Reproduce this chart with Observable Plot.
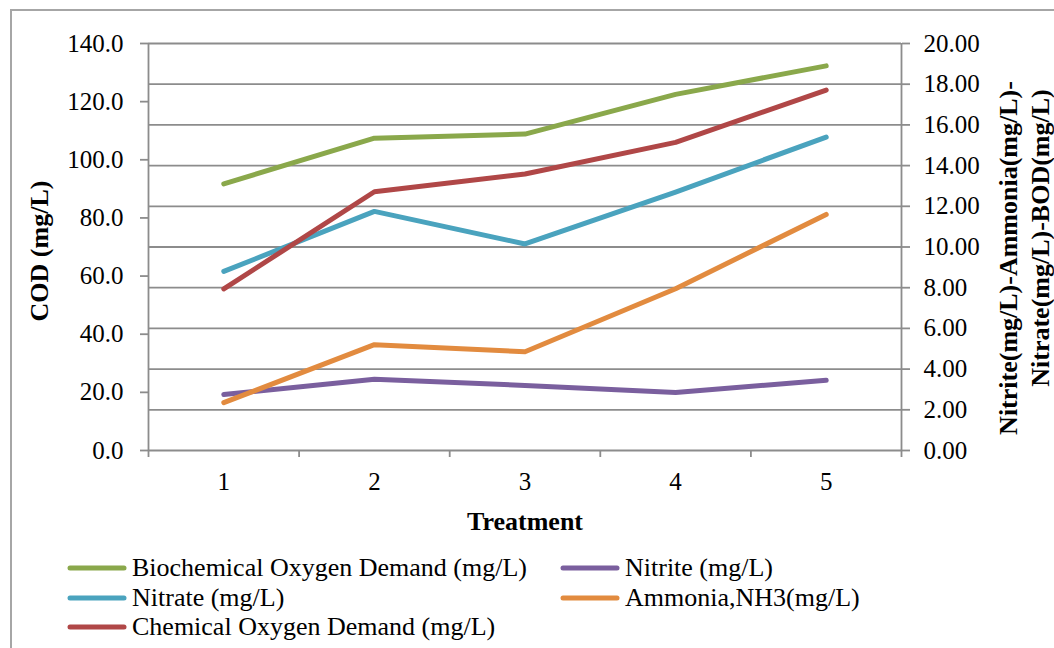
<!DOCTYPE html>
<html>
<head>
<meta charset="utf-8">
<script src="https://cdn.jsdelivr.net/npm/d3@7"></script>
<script src="https://cdn.jsdelivr.net/npm/@observablehq/plot@0.6"></script>
<style>
  html, body { margin: 0; padding: 0; background: #fff; }
  #wrap { position: relative; width: 1054px; height: 648px; overflow: hidden; background: #fff;
          font-family: "Liberation Serif", "Times New Roman", serif; color: #000; }
  #border { position: absolute; left: 10px; top: 9px; width: 1100px; height: 700px;
            border-left: 2px solid #a6a6a6; border-top: 2px solid #a6a6a6; }
  #chart { position: absolute; left: 0; top: 0; }
  .leg { position: absolute; display: flex; align-items: center; font-size: 26px; line-height: 26px; white-space: nowrap; }
  .leg svg { margin-right: 3px; }
</style>
</head>
<body>
<div id="wrap">
  <div id="border"></div>
  <div id="chart"></div>
  <div id="legend"></div>
</div>
<script>
// ---- data ----
const treatments = [1, 2, 3, 4, 5];
const bod = [13.1, 15.35, 15.55, 17.5, 18.9];       // right axis
const nitrite = [2.75, 3.5, 3.2, 2.85, 3.45];       // right axis
const nitrate = [8.8, 11.75, 10.15, 12.7, 15.4];    // right axis
const ammonia = [2.35, 5.2, 4.85, 7.95, 11.6];      // right axis
const cod = [55.6, 89.0, 95.1, 106.0, 124.0];       // left axis

const leftTicks = [0, 20, 40, 60, 80, 100, 120, 140];
const rightTicks = [0, 2, 4, 6, 8, 10, 12, 14, 16, 18, 20];

const seriesNames = [
  "Biochemical Oxygen Demand (mg/L)",
  "Nitrite (mg/L)",
  "Nitrate (mg/L)",
  "Ammonia,NH3(mg/L)",
  "Chemical Oxygen Demand (mg/L)"
];
const seriesColors = ["#8aa84b", "#7a5f9e", "#4aa3be", "#e28b3f", "#b04747"];
const seriesValues = [bod, nitrite, nitrate, ammonia, cod];
const seriesAxis = ["right", "right", "right", "right", "left"];

// ---- build ----
const k = d3.max(leftTicks) / d3.max(rightTicks); // right -> left scale factor
const rows = [];
seriesNames.forEach((name, i) => {
  seriesValues[i].forEach((v, j) => {
    rows.push({ series: name, t: treatments[j], y: seriesAxis[i] === "right" ? v * k : v });
  });
});
const boundaries = d3.range(treatments[0] - 0.5, treatments[treatments.length - 1] + 0.51, 1);
const grid = "#8c8c8c";
const serif = "'Liberation Serif', 'Times New Roman', serif";

const chart = Plot.plot({
  width: 1054,
  height: 545,
  marginLeft: 148,
  marginRight: 153,
  marginTop: 43,
  marginBottom: 95,
  style: { fontFamily: serif, fontSize: "25px", color: "#000", background: "transparent", overflow: "visible" },
  x: { type: "linear", domain: [boundaries[0], boundaries[boundaries.length - 1]] },
  y: { domain: [0, d3.max(leftTicks)] },
  color: { domain: seriesNames, range: seriesColors },
  marks: [
    Plot.ruleY(rightTicks, { y: d => d * k, stroke: grid, strokeWidth: 1.8 }),
    Plot.ruleX([boundaries[0], boundaries[boundaries.length - 1]], { stroke: grid, strokeWidth: 1.8 }),
    Plot.axisY({ anchor: "left", ticks: leftTicks, tickFormat: d => d.toFixed(1), tickSize: 8, tickPadding: 17, label: null, stroke: grid, strokeWidth: 1.8, fill: "#000" }),
    Plot.axisY({ anchor: "right", ticks: rightTicks.map(v => v * k), tickFormat: d => (d / k).toFixed(2), tickSize: 8, tickPadding: 14, label: null, stroke: grid, strokeWidth: 1.8, fill: "#000" }),
    Plot.axisX({ ticks: boundaries, tickFormat: () => "", tickSize: 7, label: null, stroke: grid, strokeWidth: 1.8 }),
    Plot.axisX({ ticks: treatments, tickFormat: d => String(d), tickSize: 0, tickPadding: 22, label: null, fill: "#000" }),
    Plot.line(rows, { x: "t", y: "y", z: "series", stroke: "series", strokeWidth: 5, strokeLinecap: "round", strokeLinejoin: "round" }),
    Plot.text(["COD (mg/L)"], { frameAnchor: "left", textAnchor: "middle", dx: -109, dy: 4, rotate: -90, fontWeight: "bold", fontSize: 26, fontFamily: serif, fill: "#000" }),
    Plot.text(["Treatment"], { frameAnchor: "bottom", textAnchor: "middle", dy: 71, fontWeight: "bold", fontSize: 26, fontFamily: serif, fill: "#000", lineAnchor: "middle" }),
    Plot.text(["Nitrite(mg/L)-Ammonia(mg/L)-"], { frameAnchor: "right", textAnchor: "middle", dx: 107, dy: 11, rotate: -90, fontWeight: "bold", fontSize: 26, fontFamily: serif, fill: "#000" }),
    Plot.text(["Nitrate(mg/L)-BOD(mg/L)"], { frameAnchor: "right", textAnchor: "middle", dx: 139, dy: -9, rotate: -90, fontWeight: "bold", fontSize: 26, fontFamily: serif, fill: "#000" })
  ]
});
document.getElementById("chart").appendChild(chart);

// ---- legend ----
const legendPos = [
  { left: 70, top: 568 }, { left: 563, top: 568 },
  { left: 70, top: 598 }, { left: 563, top: 598 },
  { left: 70, top: 627 }
];
const legend = document.getElementById("legend");
seriesNames.forEach((name, i) => {
  const div = document.createElement("div");
  div.className = "leg";
  div.style.left = (legendPos[i].left - 3) + "px";
  div.style.top = (legendPos[i].top - 13) + "px";
  div.innerHTML = `<svg width="62" height="12"><line x1="3" y1="6" x2="57" y2="6" stroke="${seriesColors[i]}" stroke-width="5" stroke-linecap="round"/></svg><span>${name}</span>`;
  legend.appendChild(div);
});
</script>
</body>
</html>
